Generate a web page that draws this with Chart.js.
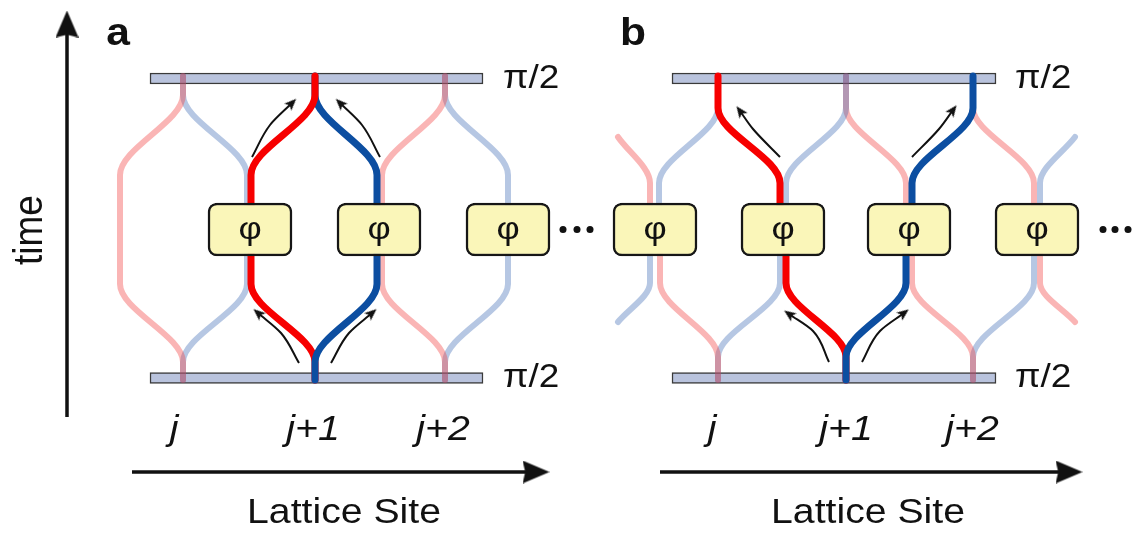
<!DOCTYPE html>
<html>
<head>
<meta charset="utf-8">
<script src="https://cdn.jsdelivr.net/npm/chart.js@4"></script>
<style>
html, body { margin: 0; padding: 0; background: #fff; }
canvas { display: block; }
</style>
</head>
<body>
<canvas id="chart" width="1137" height="533"></canvas>
<script>
// ---- labels ----
const panelTags = ['a', 'b'];
const panelTagX = [118, 633];
const siteLabels = ['j', 'j+1', 'j+2'];
const siteLabelXA = [174, 313, 443];
const siteLabelXB = [712, 846, 972];
const railLabel = 'π/2';
const railLabelX = [503, 1015];
const railLabelRows = [88, 387];
const axisTitleX = 'Lattice Site';
const axisTitleXPos = [344, 868];
const axisTitleY = 'time';

// ---- rails (π/2 pulses) and φ boxes ----
const railsA = [150, 483];
const railsB = [672, 996];
const railRows = [78.5, 378];
const boxesA = [250, 379, 508];
const boxesB = [655, 783, 909, 1037];
const boxRow = 229.5;
const dotsA = [563, 577, 590];
const dotsB = [1103, 1115, 1128];

// ---- panel a strands: each goes from a site to a box and back ----
const pinkA0 = [[183, 76], [183, 95], [120, 175], [120, 284], [183, 362], [183, 380]];
const lblueA0 = [[183, 76], [183, 95], [247, 175], [247, 284], [183, 362], [183, 380]];
const redATop = [[315, 76], [315, 95], [251, 175], [251, 229]];
const redABot = [[251, 229], [251, 284], [315, 362], [315, 380]];
const blueATop = [[315, 76], [315, 95], [377, 175], [377, 229]];
const blueABot = [[377, 229], [377, 284], [315, 362], [315, 380]];
const pinkA2 = [[445, 76], [445, 95], [382, 175], [382, 284], [445, 362], [445, 380]];
const lblueA2 = [[445, 76], [445, 95], [508, 175], [508, 284], [445, 362], [445, 380]];

// ---- panel b strands: each crosses through one box ----
const pinkB1 = [[618, 137], [650, 183], [650, 215], [660, 245], [660, 283], [718, 357], [718, 380]];
const lblueB1 = [[718, 76], [718, 108], [659, 183], [659, 215], [650, 245], [650, 283], [618, 322]];
const redBTop = [[718, 76], [718, 108], [780, 183], [780, 229]];
const redBBot = [[786, 229], [786, 283], [846, 357], [846, 380]];
const lblueB2 = [[846, 76], [846, 108], [786, 183], [786, 215], [780, 245], [780, 283], [718, 357], [718, 380]];
const pinkB3 = [[846, 76], [846, 108], [906, 183], [906, 215], [912, 245], [912, 283], [973, 357], [973, 380]];
const blueBTop = [[973, 76], [973, 108], [912, 183], [912, 229]];
const blueBBot = [[906, 229], [906, 283], [846, 357], [846, 380]];
const pinkB4 = [[973, 76], [973, 108], [1034, 183], [1034, 215], [1040, 245], [1040, 283], [1075, 322]];
const lblueB4 = [[1075, 137], [1040, 183], [1040, 215], [1034, 245], [1034, 283], [973, 357], [973, 380]];

// ---- small curved arrows ----
const arrowsA = [
  [[252, 157], [270, 125], [292, 103]],
  [[380, 157], [362, 125], [340, 103]],
  [[299, 363], [281, 333], [258, 313]],
  [[331, 363], [349, 333], [372, 313]]
];
const arrowsB = [
  [[780, 157], [753, 129], [740, 111]],
  [[912, 157], [939, 129], [953, 110]],
  [[829, 362], [813, 331], [789, 314]],
  [[862, 362], [880, 331], [904, 313]]
];

// ---- axis arrows ----
const timeAxis = [[67, 417], [67, 24]];
const siteAxisA = [[132, 472], [536, 472]];
const siteAxisB = [[660, 472], [1069, 472]];

// ---- styles ----
const RED = '#f70000';
const BLUE = '#0c4ea1';
const PINK = 'rgba(243, 70, 70, 0.4)';
const LBLUE = 'rgba(45, 95, 175, 0.35)';
const FONT = "'Liberation Sans', Arial, sans-serif";
const textStretch = 1.12;
const boxHalf = 42;

function makeHead(w, h, notch) {
  const c = document.createElement('canvas');
  c.width = w; c.height = h;
  const g = c.getContext('2d');
  g.fillStyle = '#111';
  g.beginPath();
  g.moveTo(w / 2, 0);
  g.lineTo(w, h);
  g.lineTo(w / 2, h * notch);
  g.lineTo(0, h);
  g.closePath();
  g.fill();
  return c;
}
const smallHead = makeHead(10, 12, 0.78);
const bigHead = makeHead(23, 27, 0.9);

const pts = arr => arr.map(([x, y]) => ({x, y}));

function strand(arr, color, width, order) {
  return {
    type: 'line', indexAxis: 'y', data: pts(arr),
    borderColor: color, borderWidth: width,
    borderCapStyle: 'round', borderJoinStyle: 'round',
    cubicInterpolationMode: 'monotone',
    pointRadius: 0, fill: false, order
  };
}

function arrow(arr, head, width, curved) {
  const last = arr.length - 1;
  const [x0, y0] = arr[last - 1];
  const [x1, y1] = arr[last];
  const rot = Math.atan2(x1 - x0, -(y1 - y0)) * 180 / Math.PI;
  return {
    type: 'line', indexAxis: 'y', data: pts(arr),
    borderColor: '#111', borderWidth: width,
    cubicInterpolationMode: curved ? 'monotone' : 'default', tension: 0,
    pointRadius: c => c.dataIndex === last ? 5 : 0,
    pointStyle: c => c.dataIndex === last ? head : 'circle',
    pointRotation: rot, pointBorderWidth: 0,
    fill: false, order: 0
  };
}

const rails = [];
[railsA, railsB].forEach(r => railRows.forEach(y => rails.push({x: r, y})));
const boxes = [...boxesA, ...boxesB].map(c => ({x: [c - boxHalf, c + boxHalf], y: boxRow}));
const dots = [...dotsA, ...dotsB].map(x => ({x, y: boxRow}));

const datasets = [
  ...arrowsA.map(a => arrow(a, smallHead, 2, true)),
  ...arrowsB.map(a => arrow(a, smallHead, 2, true)),
  arrow(timeAxis, bigHead, 3.5, false),
  arrow(siteAxisA, bigHead, 3.5, false),
  arrow(siteAxisB, bigHead, 3.5, false),
  { type: 'line', indexAxis: 'y', data: dots, showLine: false, pointRadius: 3.5,
    pointBackgroundColor: '#111', pointBorderWidth: 0, order: 0 },
  { type: 'bar', indexAxis: 'y', data: boxes, barThickness: 53, grouped: false,
    backgroundColor: '#faf6b9', borderColor: '#161616', borderWidth: 2.5,
    borderRadius: 9, borderSkipped: false, order: 1 },
  strand(redATop, RED, 7, 2), strand(blueABot, BLUE, 7, 2),
  strand(blueATop, BLUE, 7, 3), strand(redABot, RED, 7, 3),
  strand(redBTop, RED, 7, 2), strand(blueBBot, BLUE, 7, 2),
  strand(blueBTop, BLUE, 7, 3), strand(redBBot, RED, 7, 3),
  strand(pinkA0, PINK, 6, 5), strand(lblueA0, LBLUE, 6, 5),
  strand(pinkA2, PINK, 6, 5), strand(lblueA2, LBLUE, 6, 5),
  strand(pinkB1, PINK, 6, 5), strand(lblueB1, LBLUE, 6, 5),
  strand(lblueB2, LBLUE, 6, 5), strand(pinkB3, PINK, 6, 5),
  strand(pinkB4, PINK, 6, 5), strand(lblueB4, LBLUE, 6, 5),
  { type: 'bar', indexAxis: 'y', data: rails, barThickness: 11, grouped: false,
    backgroundColor: '#b9c3dd', borderColor: '#3a3a3a', borderWidth: 1.5,
    borderSkipped: false, order: 10 }
];

const labelPlugin = {
  id: 'labels',
  afterDatasetsDraw(chart) {
    const {ctx, scales: {x, y}} = chart;
    const put = (str, vx, vy, font, align, base, rot) => {
      ctx.save();
      ctx.translate(x.getPixelForValue(vx), y.getPixelForValue(vy));
      ctx.scale(textStretch, 1);
      if (rot) ctx.rotate(rot);
      ctx.font = font;
      ctx.textAlign = align;
      ctx.textBaseline = base;
      ctx.fillStyle = '#111';
      ctx.fillText(str, 0, 0);
      ctx.restore();
    };
    panelTags.forEach((t, i) => put(t, panelTagX[i], 45, 'bold 38px ' + FONT, 'center', 'alphabetic'));
    siteLabels.forEach((t, i) => {
      put(t, siteLabelXA[i], 440, 'italic 35px ' + FONT, 'center', 'alphabetic');
      put(t, siteLabelXB[i], 440, 'italic 35px ' + FONT, 'center', 'alphabetic');
    });
    railLabelX.forEach(lx => railLabelRows.forEach(ly => put(railLabel, lx, ly, '33px ' + FONT, 'left', 'alphabetic')));
    [...boxesA, ...boxesB].forEach(c => put('φ', c, boxRow + 1, '32px ' + FONT, 'center', 'middle'));
    axisTitleXPos.forEach(ax => put(axisTitleX, ax, 523, '35px ' + FONT, 'center', 'alphabetic'));
    put(axisTitleY, 42, 230, '37px ' + FONT, 'center', 'alphabetic', -Math.PI / 2);
  }
};

new Chart(document.getElementById('chart'), {
  type: 'line',
  data: { datasets },
  options: {
    responsive: false,
    animation: false,
    events: [],
    indexAxis: 'y',
    layout: { padding: 0, autoPadding: false },
    scales: {
      x: { type: 'linear', min: 0, max: 1137, offset: false, display: false },
      y: { type: 'linear', min: 0, max: 533, reverse: true, offset: false, display: false }
    },
    plugins: { legend: { display: false }, tooltip: { enabled: false } }
  },
  plugins: [labelPlugin]
});
</script>
</body>
</html>
